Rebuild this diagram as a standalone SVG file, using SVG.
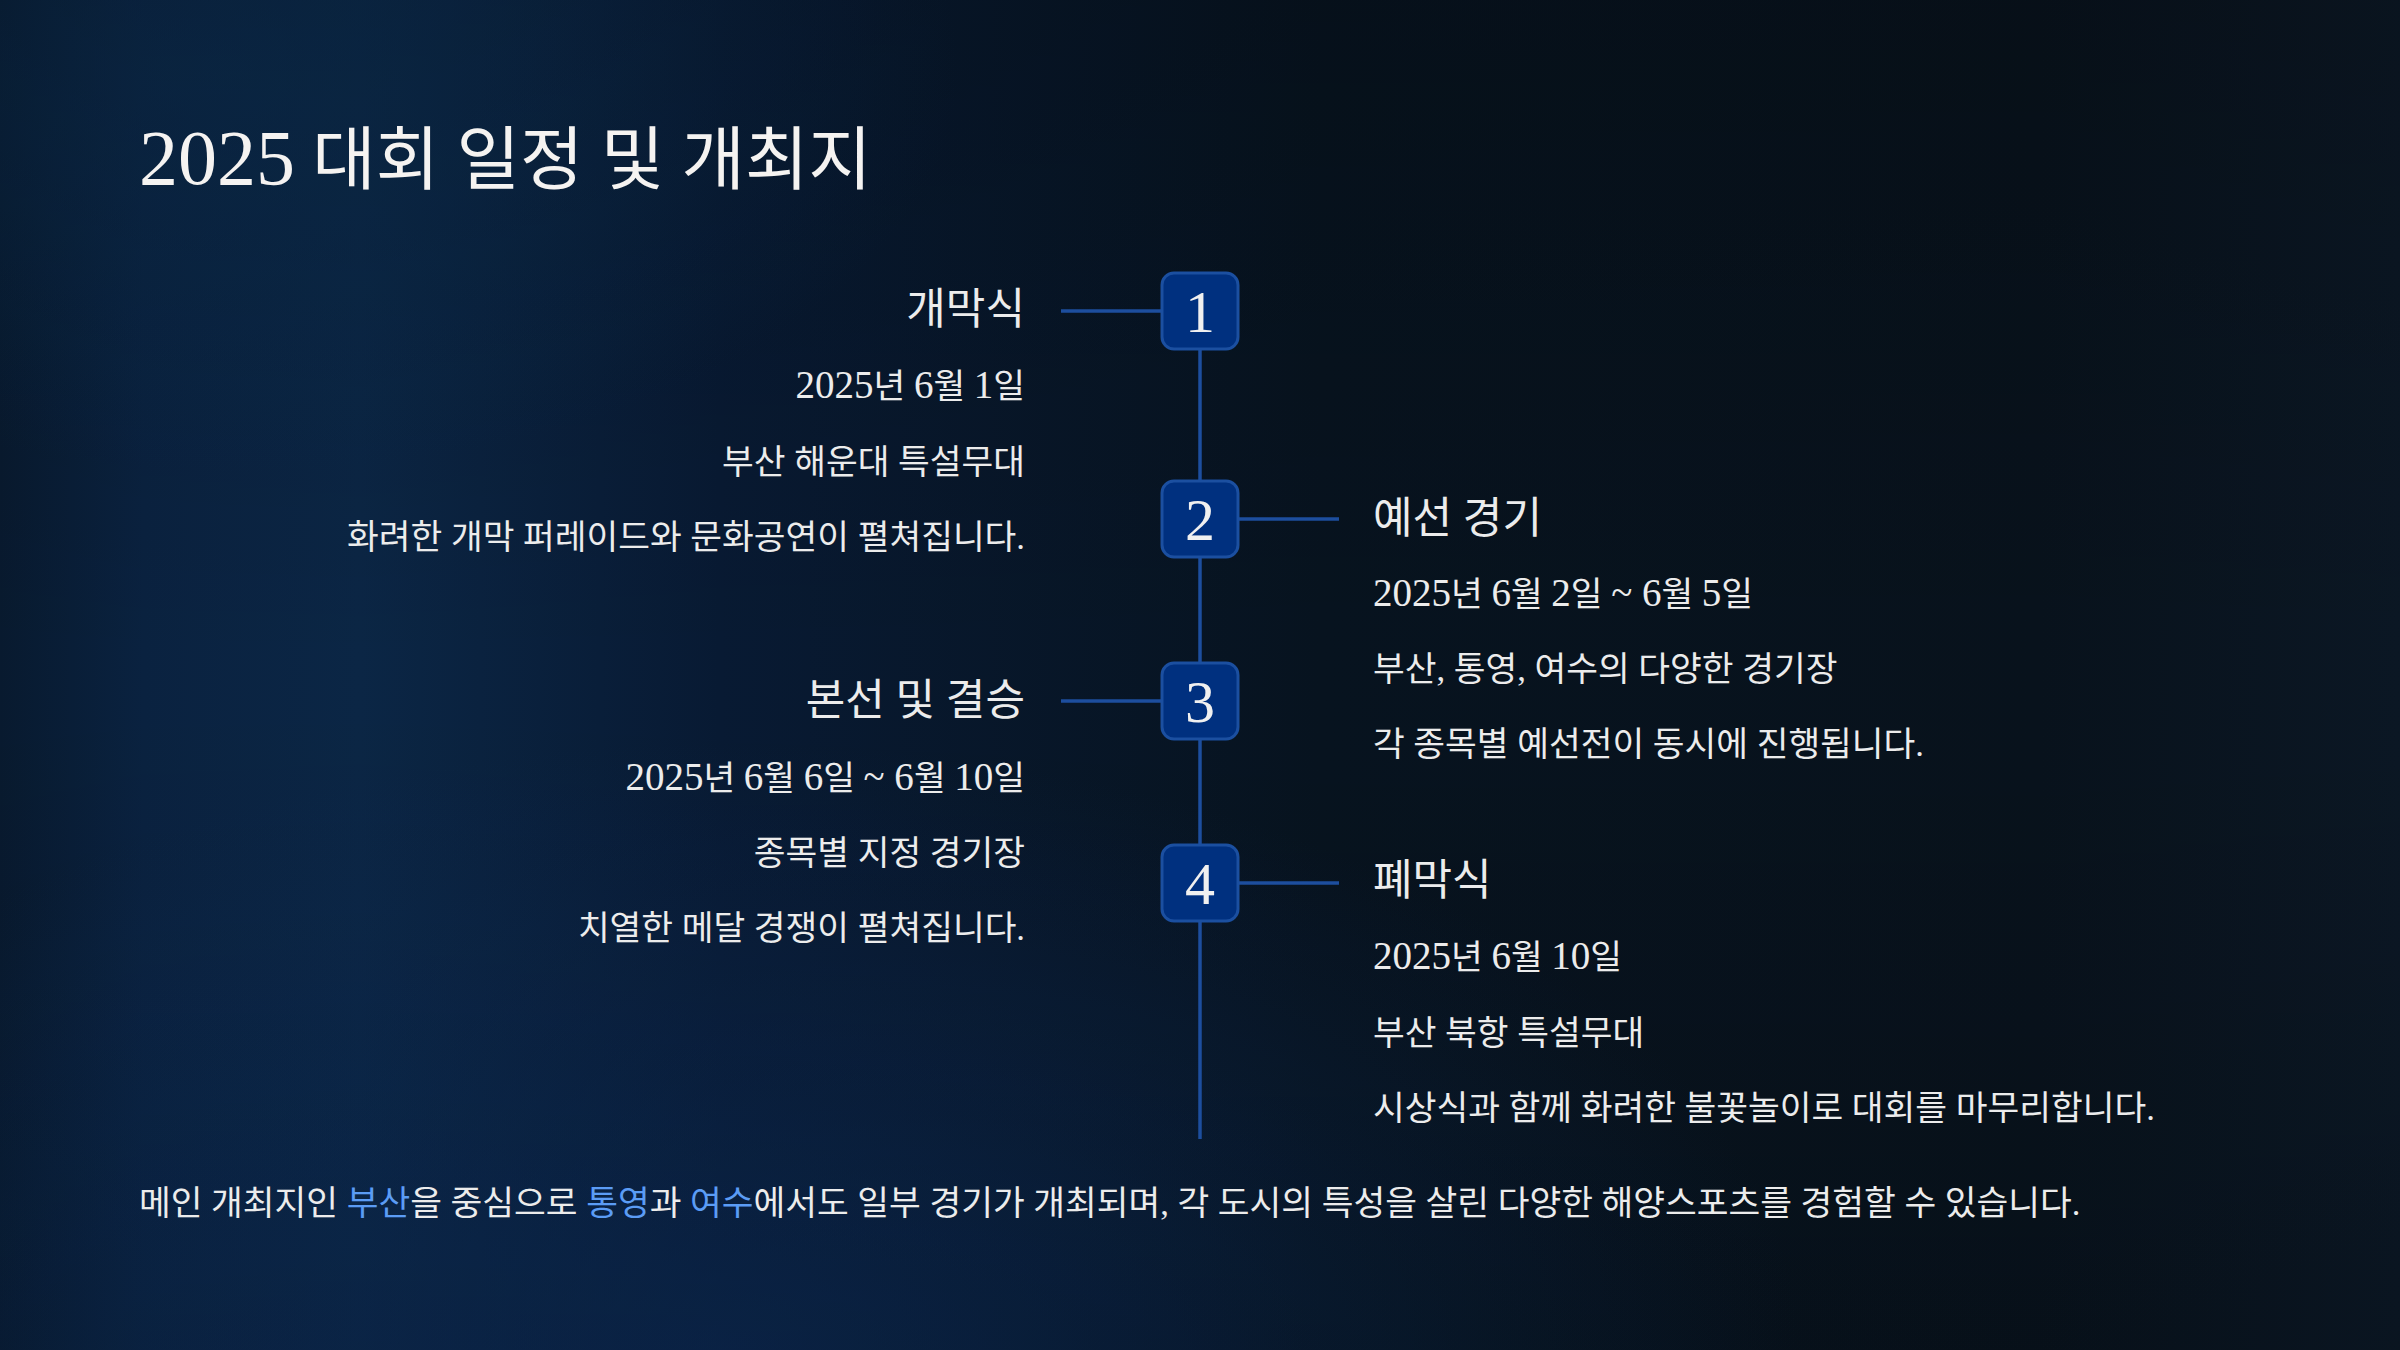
<svg xmlns="http://www.w3.org/2000/svg" width="2400" height="1350" viewBox="0 0 2400 1350">
<defs>
<linearGradient id="bg" x1="0" y1="0" x2="1" y2="0">
<stop offset="0" stop-color="#081a2f"/>
<stop offset="0.06" stop-color="#0a2240"/>
<stop offset="0.15" stop-color="#0b2645"/>
<stop offset="0.3" stop-color="#081a33"/>
<stop offset="0.55" stop-color="#07131f"/>
<stop offset="0.85" stop-color="#08121c"/>
<stop offset="1" stop-color="#0b1724"/>
</linearGradient>
<radialGradient id="glow1" cx="0.3" cy="1.0" r="0.45">
<stop offset="0" stop-color="#0c2a55" stop-opacity="0.7"/>
<stop offset="1" stop-color="#0c2a55" stop-opacity="0"/>
</radialGradient>
<radialGradient id="glow2" cx="0.1" cy="0.05" r="0.3">
<stop offset="0" stop-color="#0b2d4f" stop-opacity="0.6"/>
<stop offset="1" stop-color="#0b2d4f" stop-opacity="0"/>
</radialGradient>
<linearGradient id="topfade" x1="0" y1="0" x2="0" y2="1">
<stop offset="0" stop-color="#000000" stop-opacity="0.15"/>
<stop offset="0.5" stop-color="#000000" stop-opacity="0"/>
<stop offset="1" stop-color="#000000" stop-opacity="0.1"/>
</linearGradient>
</defs>
<style>
text { font-family: "Liberation Serif", "Noto Sans CJK KR", serif; fill: #ececec; }
.title { font-size: 69px; fill: #f5f3f1; }
.big { font-size: 78px; }
.head { font-size: 43px; }
.body { font-size: 34.5px; }
.d { font-size: 39px; }
.num { font-size: 60px; fill: #f0f0f0; text-anchor: middle; }
.l { text-anchor: end; }
.hl { fill: #5b9cf5; }
.box { fill: #00307f; stroke: #1b4fa0; stroke-width: 3; }
.line { stroke: #1d4e9e; stroke-width: 3.5; fill: none; }
</style>
<rect width="2400" height="1350" fill="url(#bg)"/>
<rect width="2400" height="1350" fill="url(#glow1)"/>
<rect width="2400" height="1350" fill="url(#glow2)"/>
<rect width="2400" height="1350" fill="url(#topfade)"/>

<text class="title" x="139" y="184"><tspan class="big">2025</tspan> 대회 일정 및 개최지</text>

<g id="connectors">
<line class="line" x1="1200" y1="349" x2="1200" y2="1139"/>
<line class="line" x1="1061" y1="311" x2="1162" y2="311"/>
<line class="line" x1="1238" y1="519" x2="1339" y2="519"/>
<line class="line" x1="1061" y1="701" x2="1162" y2="701"/>
<line class="line" x1="1238" y1="883" x2="1339" y2="883"/>
</g>

<g id="node1">
<rect class="box" x="1162" y="273" width="76" height="76" rx="12"/>
<text class="num" x="1200" y="332">1</text>
<text class="head l" x="1025" y="324">개막식</text>
<text class="body l" x="1025" y="398"><tspan class="d">2025</tspan>년 <tspan class="d">6</tspan>월 <tspan class="d">1</tspan>일</text>
<text class="body l" x="1025" y="474">부산 해운대 특설무대</text>
<text class="body l" x="1025" y="549">화려한 개막 퍼레이드와 문화공연이 펼쳐집니다.</text>
</g>

<g id="node2">
<rect class="box" x="1162" y="481" width="76" height="76" rx="12"/>
<text class="num" x="1200" y="540">2</text>
<text class="head" x="1373" y="533">예선 경기</text>
<text class="body" x="1373" y="606"><tspan class="d">2025</tspan>년 <tspan class="d">6</tspan>월 <tspan class="d">2</tspan>일 <tspan class="d">~ 6</tspan>월 <tspan class="d">5</tspan>일</text>
<text class="body" x="1373" y="681">부산, 통영, 여수의 다양한 경기장</text>
<text class="body" x="1373" y="756">각 종목별 예선전이 동시에 진행됩니다.</text>
</g>

<g id="node3">
<rect class="box" x="1162" y="663" width="76" height="76" rx="12"/>
<text class="num" x="1200" y="722">3</text>
<text class="head l" x="1025" y="715">본선 및 결승</text>
<text class="body l" x="1025" y="790"><tspan class="d">2025</tspan>년 <tspan class="d">6</tspan>월 <tspan class="d">6</tspan>일 <tspan class="d">~ 6</tspan>월 <tspan class="d">10</tspan>일</text>
<text class="body l" x="1025" y="865">종목별 지정 경기장</text>
<text class="body l" x="1025" y="940">치열한 메달 경쟁이 펼쳐집니다.</text>
</g>

<g id="node4">
<rect class="box" x="1162" y="845" width="76" height="76" rx="12"/>
<text class="num" x="1200" y="904">4</text>
<text class="head" x="1373" y="895">폐막식</text>
<text class="body" x="1373" y="969"><tspan class="d">2025</tspan>년 <tspan class="d">6</tspan>월 <tspan class="d">10</tspan>일</text>
<text class="body" x="1373" y="1045">부산 북항 특설무대</text>
<text class="body" x="1373" y="1120">시상식과 함께 화려한 불꽃놀이로 대회를 마무리합니다.</text>
</g>

<text class="body" x="139" y="1215">메인 개최지인 <tspan class="hl">부산</tspan>을 중심으로 <tspan class="hl">통영</tspan>과 <tspan class="hl">여수</tspan>에서도 일부 경기가 개최되며, 각 도시의 특성을 살린 다양한 해양스포츠를 경험할 수 있습니다.</text>
</svg>
